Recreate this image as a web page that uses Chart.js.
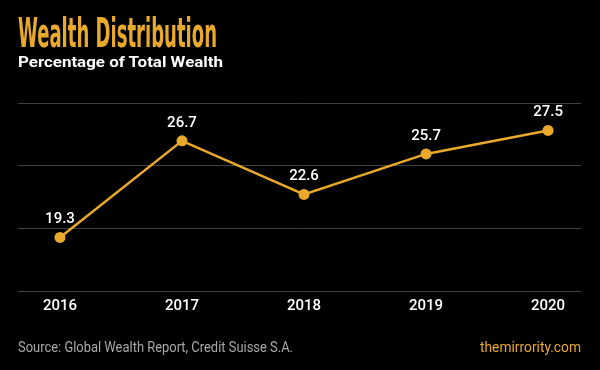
<!DOCTYPE html>
<html>
<head>
<meta charset="utf-8">
<script src="https://cdn.jsdelivr.net/npm/chart.js@4.4.0/dist/chart.umd.min.js"></script>
<style>
  html, body { margin: 0; padding: 0; background: #000; }
  #wrap { position: relative; width: 600px; height: 370px; background: #000; overflow: hidden; }
  #c { position: absolute; left: 0; top: 0; }
  .t { position: absolute; white-space: nowrap; transform-origin: 0 0; margin: 0; }
  #title { left: 18px; top: 13px; font-family: "Liberation Sans Narrow", "DejaVu Sans Condensed", sans-serif; font-weight: bold; font-size: 40px; line-height: 40px; color: #e9a92a; }
  #subtitle { left: 18px; top: 55px; font-family: Roboto, sans-serif; font-weight: bold; font-size: 15px; line-height: 15px; color: #ffffff; }
  #source { left: 18px; top: 340px; font-family: Roboto, sans-serif; font-size: 14px; line-height: 14px; color: #a8a8a8; }
  #brand { left: 480px; top: 340px; font-family: Roboto, sans-serif; font-size: 14px; line-height: 14px; color: #e9a92a; }
</style>
</head>
<body>
<div id="wrap">
  <canvas id="c" width="600" height="370"></canvas>
  <div class="t" id="title">Wealth Distribution</div>
  <div class="t" id="subtitle">Percentage of Total Wealth</div>
  <div class="t" id="source">Source: Global Wealth Report, Credit Suisse S.A.</div>
  <div class="t" id="brand">themirrority.com</div>
</div>
<script>
const years = ["2016", "2017", "2018", "2019", "2020"];
const wealthShare = [19.3, 26.7, 22.6, 25.7, 27.5];
const yGridValues = [15.2, 20, 24.8, 29.6];

// fit condensed texts to their measured widths in the reference
function fitWidth(id, target) {
  const el = document.getElementById(id);
  const w = el.getBoundingClientRect().width;
  el.style.transform = 'scaleX(' + (target / w) + ')';
}
fitWidth('title', 199);
fitWidth('subtitle', 205);
fitWidth('source', 275);
fitWidth('brand', 101);

const gold = '#e9a92a';

const valueLabels = {
  id: 'valueLabels',
  afterDatasetsDraw(chart) {
    const ctx = chart.ctx;
    const meta = chart.getDatasetMeta(0);
    ctx.save();
    ctx.font = '500 15px Roboto, sans-serif';
    ctx.fillStyle = '#ffffff';
    ctx.textAlign = 'center';
    ctx.textBaseline = 'middle';
    meta.data.forEach((pt, i) => {
      ctx.fillText(wealthShare[i].toFixed(1), pt.x, pt.y - 18);
    });
    ctx.restore();
  }
};

new Chart(document.getElementById('c'), {
  type: 'line',
  data: {
    datasets: [{
      data: wealthShare.map((v, i) => ({ x: i, y: v })),
      borderColor: gold,
      backgroundColor: gold,
      borderWidth: 2.5,
      pointRadius: 5.5,
      pointHoverRadius: 5.5,
      pointBackgroundColor: gold,
      pointBorderWidth: 0,
      tension: 0,
      fill: false
    }]
  },
  options: {
    responsive: false,
    animation: false,
    events: [],
    layout: { padding: { left: 18, right: 19, top: 103, bottom: 39 } },
    plugins: { legend: { display: false }, tooltip: { enabled: false }, title: { display: false } },
    scales: {
      x: {
        type: 'linear',
        min: -0.344,
        max: 4.27,
        afterBuildTicks: (s) => { s.ticks = years.map((_, i) => ({ value: i })); },
        afterFit: (s) => { s.height = 40; },
        grid: { display: false, drawTicks: false },
        border: { display: false },
        ticks: {
          autoSkip: false,
          maxRotation: 0,
          padding: 6,
          color: '#ffffff',
          font: { family: 'Roboto, sans-serif', size: 15, weight: '500' },
          callback: (v) => years[v]
        }
      },
      y: {
        min: yGridValues[0],
        max: yGridValues[yGridValues.length - 1],
        afterBuildTicks: (s) => { s.ticks = yGridValues.map(v => ({ value: v })); },
        afterFit: (s) => { s.width = 0; },
        grid: { color: '#404040', lineWidth: 1, drawTicks: false },
        border: { display: false },
        ticks: { display: false }
      }
    }
  },
  plugins: [valueLabels]
});
</script>
</body>
</html>
